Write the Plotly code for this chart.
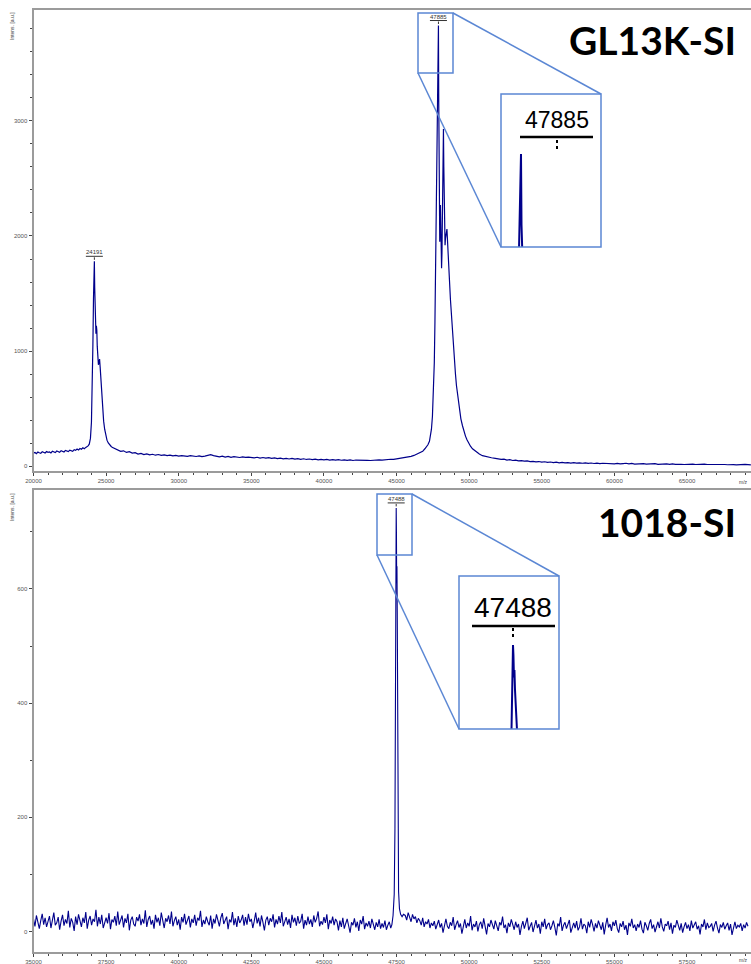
import plotly.graph_objects as go

W, H = 751, 964

# ---------------- GL13K-SI spectrum (m/z, intensity) ----------------
# baseline 20000-23700, step 100
top_a_start, top_a_step = 20000, 100
top_a_int = [112, 118, 108, 121, 115, 110, 124, 117, 113, 126,
             119, 122, 114, 128, 121, 117, 130, 124, 119, 133,
             126, 122, 136, 129, 125, 138, 133, 128, 142, 136,
             148, 140, 152, 146, 158, 150, 162, 168]
# peak cluster around 24191
top_p1_mz = [23760, 23840, 23920, 23990, 24040, 24090, 24130, 24165, 24191, 24215,
             24240, 24270, 24300, 24330, 24360, 24390, 24430, 24470, 24510, 24550,
             24590, 24640, 24700, 24760, 24830, 24900, 24980, 25060, 25150, 25250,
             25350, 25450]
top_p1_int = [175, 190, 240, 380, 620, 1050, 1450, 1700, 1780, 1550,
              1320, 1190, 1150, 1220, 1180, 1040, 950, 880, 900, 930,
              860, 740, 610, 490, 390, 320, 265, 225, 200, 182,
              170, 160]
# baseline 25600-46600, step 200
top_b_start, top_b_step = 25600, 200
top_b_int = [150, 138, 127, 132, 118, 124, 112, 116,
             104, 110, 99, 106, 97, 102, 94, 100, 92, 97,
             90, 95, 88, 93, 86, 91, 89, 84, 90, 86,
             83, 88, 81, 86, 93, 98, 90, 84, 80, 85,
             78, 83, 76, 81, 79, 74, 80, 75, 78, 73,
             71, 76, 69, 74, 68, 72, 66, 71, 65, 69,
             63, 67, 61, 66, 60, 64, 58, 63, 57, 61,
             56, 60, 54, 58, 53, 57, 52, 56, 51, 55,
             50, 54, 49, 53, 48, 52, 50, 47, 51, 49,
             48, 52, 50, 54, 52, 56, 55, 59, 58, 62,
             64, 68, 72, 77, 84, 92, 104, 118]
# main peak cluster around 47885
top_p2_mz = [46800, 46950, 47058, 47160, 47265, 47340, 47403, 47470, 47540, 47600,
             47644, 47680, 47713, 47750, 47782, 47815, 47840, 47865, 47885, 47905,
             47933, 47955, 47975, 48000, 48023, 48045, 48071, 48100, 48128, 48155,
             48183, 48205, 48230, 48255, 48279, 48310, 48340, 48370, 48404, 48440,
             48471, 48505, 48540, 48590, 48643, 48710, 48781, 48850, 48919, 48990,
             49057, 49125, 49195, 49265, 49333, 49430, 49540, 49640, 49747, 49850,
             49954, 50090, 50230, 50370, 50505, 50700, 50918, 51200, 51540]
top_p2_int = [128, 150, 165, 185, 215, 260, 320, 430, 620, 900,
              1250, 1650, 2050, 2500, 2900, 3300, 3560, 3750, 3830, 3200,
              2500, 2150, 1950, 2120, 2270, 2050, 1760, 1720, 1850, 2200,
              2580, 2800, 2930, 2600, 2300, 2050, 1920, 1980, 2010, 2050,
              2060, 1970, 1900, 1760, 1620, 1450, 1300, 1140, 1000, 890,
              800, 700, 620, 545, 480, 410, 350, 300, 260, 228,
              200, 172, 150, 134, 120, 104, 90, 80, 72]
# baseline 51800-69400, step 200
top_c_start, top_c_step = 51800, 200
top_c_int = [66, 61, 57, 60, 52, 55, 48, 51, 45, 47,
             42, 44, 39, 41, 36, 39, 34, 37, 32, 35,
             30, 33, 28, 31, 27, 30, 26, 29, 25, 28,
             24, 27, 23, 26, 22, 25, 21, 24, 22, 20,
             23, 19, 22, 18, 21, 24, 19, 22, 17, 20,
             18, 21, 16, 19, 17, 20, 15, 18, 16, 19,
             15, 18, 14, 17, 15, 13, 16, 14, 17, 13,
             15, 12, 16, 13, 14, 11, 15, 12, 14, 13,
             11, 14, 12, 10, 13, 11, 14, 12, 10]

# ---------------- 1018-SI spectrum (m/z, intensity) ----------------
# baseline 35000-47300, step 50
bot_a_start, bot_a_step = 35000, 50
bot_a_int = [22, 9, 28, 14, 5, 19, 31, 12, 24, 8,
             17, 27, 6, 20, 33, 11, 15, 25, 3, 18,
             29, 10, 21, 14, 36, 7, 23, 16, 1, 26,
             12, 30, 19, 8, 24, 15, 34, 5, 20, 27,
             11, 22, 17, 38, 9, 25, 13, 29, 6, 18,
             24, 14, 32, 4, 21, 16, 27, 10, 35, 12,
             19, 28, 7, 23, 15, 31, 2, 20, 26, 13,
             9, 25, 18, 30, 11, 22, 14, 37, 8, 21,
             27, 12, 20, 5, 29, 16, 24, 10, 33, 15,
             6, 23, 17, 28, 13, 35, 9, 19, 26, 11,
             21, 3, 25, 16, 31, 12, 18, 27, 7, 22,
             15, 29, 10, 24, 19, 36, 8, 20, 13, 26,
             17, 11, 28, 5, 22, 14, 30, 18, 9, 24,
             32, 13, 19, 26, 4, 21, 16, 34, 11, 23,
             8, 27, 15, 20, 29, 10, 25, 12, 31, 17,
             22, 6, 18, 33, 14, 24, 9, 28, 16, 2,
             20, 26, 11, 23, 17, 30, 7, 21, 13, 27,
             15, 34, 9, 19, 25, 12, 22, 6, 29, 16,
             24, 10, 27, 14, 18, 31, 5, 20, 11, 26,
             13, 21, 8, 28, 16, 23, 35, 9, 18, 12,
             25, 15, 30, 4, 20, 14, 26, 11, 22, 17,
             2, 19, 8, 24, 5, 14, 22, 10, -2, 16,
             11, 23, 7, 17, 1, 20, 13, 27, 4, 15,
             9, 18, 6, 22, 12, 3, 16, 8, 21, 5,
             14, 7, 19, 3, 11, 17, 6]
# peak around 47488
bot_p_mz = [47340, 47380, 47420, 47445, 47460, 47472, 47482, 47488, 47496, 47505,
            47514, 47524, 47536, 47550, 47570, 47600, 47640, 47690, 47740]
bot_p_int = [12, 28, 65, 180, 380, 600, 720, 742, 700, 610,
             640, 560, 380, 170, 70, 40, 30, 26, 30]
# baseline 47800-59600, step 50
bot_b_start, bot_b_step = 47800, 50
bot_b_int = [28, 20, 33, 24, 17, 30, 22, 26, 15, 23,
             19, 11, 24, 8, 17, 13, 21, 6, 15, 10,
             18, 4, 13, 20, 7, 14, -2, 11, 22, 9,
             5, 16, 10, 25, 3, 12, 19, 7, 14, -4,
             11, 21, 6, 15, 9, 27, 2, 13, 8, 18,
             0, 12, 17, 5, 23, 10, -5, 14, 8, 20,
             13, 4, 19, 9, 1, 16, 11, 26, 6, 12,
             -3, 15, 8, 21, 10, 3, 17, 7, 13, -6,
             9, 18, 5, 14, 24, 2, 11, 16, -1, 10,
             20, 6, 13, -4, 17, 8, 22, 4, 12, 15,
             3, 10, 19, 7, -7, 14, 9, 25, 1, 11,
             16, 5, 12, 20, -2, 9, 15, 6, 18, 2,
             8, 23, 4, 13, 10, -3, 17, 7, 21, 12,
             0, 14, 6, 19, 9, 3, 16, -5, 11, 24,
             7, 13, 1, 17, 10, 20, 5, -2, 14, 8,
             18, 3, 11, -6, 15, 9, 22, 6, 12, 1,
             13, 7, 19, 4, -3, 16, 10, 2, 14, 21,
             5, 12, -1, 9, 17, 6, 23, 8, 0, 13,
             10, 18, 3, 15, -4, 11, 7, 20, 9, 2,
             14, -2, 8, 16, 5, 12, 1, 19, 6, 11,
             17, 4, 10, -5, 13, 8, 21, 3, 15, 7,
             9, 14, 0, 11, 18, 6, -3, 12, 7, 16,
             4, 10, 15, 2, 13, -6, 9, 17, 5, 11,
             8, 14, 1, 12, 6, 16, 9]

# labelled peaks
top_peaks = [(24191, 1780), (47885, 3830)]
bot_peaks = [(47488, 742)]
top_title = "GL13K-SI"
bot_title = "1018-SI"


def grid(start, step, vals):
    return [start + step * i for i in range(len(vals))]


top_mz = (grid(top_a_start, top_a_step, top_a_int) + top_p1_mz
          + grid(top_b_start, top_b_step, top_b_int) + top_p2_mz
          + grid(top_c_start, top_c_step, top_c_int))
top_int = top_a_int + top_p1_int + top_b_int + top_p2_int + top_c_int
bot_mz = (grid(bot_a_start, bot_a_step, bot_a_int) + bot_p_mz
          + grid(bot_b_start, bot_b_step, bot_b_int))
bot_int = bot_a_int + bot_p_int + bot_b_int


def px(x):
    return x / W


def py(y):
    return 1 - y / H


LINE = "#00008b"
AX = "#9b9b9b"
BOX = "#5b87d4"
TICKFONT = dict(family="Liberation Sans", size=6, color="#555555")

fig = go.Figure()
fig.add_trace(go.Scatter(x=top_mz, y=top_int, mode="lines",
                         line=dict(color=LINE, width=1.2), xaxis="x", yaxis="y"))
fig.add_trace(go.Scatter(x=bot_mz, y=bot_int, mode="lines",
                         line=dict(color=LINE, width=1.1), xaxis="x2", yaxis="y2"))
# magnified views of the main peaks
fig.add_trace(go.Scatter(x=top_mz, y=top_int, mode="lines",
                         line=dict(color=LINE, width=2), xaxis="x3", yaxis="y3"))
fig.add_trace(go.Scatter(x=bot_mz, y=bot_int, mode="lines",
                         line=dict(color=LINE, width=2), xaxis="x4", yaxis="y4"))


def main_x(rng, dtick, minor, anchor):
    return dict(domain=[px(33.5), 1], range=rng, anchor=anchor, automargin=False,
                showline=True, linecolor=AX, linewidth=2, mirror=True,
                ticks="outside", ticklen=3, tickcolor="#444", tickwidth=1,
                dtick=dtick, tick0=0, tickformat="d", tickfont=TICKFONT,
                minor=dict(dtick=minor, ticks="outside", ticklen=2, tickcolor="#444"),
                showgrid=False, zeroline=False)


def main_y(domain, rng, dtick, minor, anchor):
    return dict(domain=domain, range=rng, anchor=anchor, automargin=False,
                showline=True, linecolor=AX, linewidth=2,
                ticks="outside", ticklen=3, tickcolor="#444", tickwidth=1,
                dtick=dtick, tick0=0, tickformat="d", tickfont=TICKFONT,
                minor=dict(dtick=minor, ticks="outside", ticklen=2, tickcolor="#444"),
                showgrid=False, zeroline=False)


hidden = dict(visible=False, showgrid=False, zeroline=False, automargin=False)

fig.update_layout(
    width=W, height=H, margin=dict(l=0, r=0, t=0, b=0, autoexpand=False),
    paper_bgcolor="white", plot_bgcolor="white", showlegend=False,
    xaxis=main_x([20000, 69408], 5000, 1000, "y"),
    yaxis=main_y([py(470.5), py(10)], [-39, 3965], 1000, 200, "x"),
    xaxis2=main_x([35000, 59704], 2500, 500, "y2"),
    yaxis2=main_y([py(952), py(490)], [-36, 773.4], 200, 100, "x2"),
    xaxis3=dict(domain=[px(501), px(601)], range=[47085, 51085], anchor="y3", **hidden),
    yaxis3=dict(domain=[py(247), py(94)], range=[3000, 4365], anchor="x3", **hidden),
    xaxis4=dict(domain=[px(459), px(559)], range=[46516, 48316], anchor="y4", **hidden),
    yaxis4=dict(domain=[py(729), py(576)], range=[400, 1023], anchor="x4", **hidden),
)

shapes = []
annotations = []


def seg(x0, y0, x1, y1, color=BOX, width=1.5, dash="solid"):
    shapes.append(dict(type="line", xref="paper", yref="paper",
                       x0=px(x0), y0=py(y0), x1=px(x1), y1=py(y1),
                       line=dict(color=color, width=width, dash=dash)))


def rect(x0, y0, x1, y1):
    shapes.append(dict(type="rect", xref="paper", yref="paper",
                       x0=px(x0), y0=py(y0), x1=px(x1), y1=py(y1),
                       line=dict(color=BOX, width=1.5)))


# zoom boxes and connectors
rect(418, 13, 453, 73)
rect(501, 94, 601, 247)
seg(453, 13, 601, 94)
seg(418, 73, 501, 247)
rect(377, 494, 412, 555)
rect(459, 576, 559, 729)
seg(412, 494, 559, 576)
seg(377, 555, 459, 729)

# magnified label headers
seg(520, 137, 593, 137, color="black", width=2.5)
seg(557, 140, 557, 149, color="black", width=2, dash="dot")
seg(472, 626, 555, 626, color="black", width=2.5)
seg(513, 628, 513, 638, color="black", width=2, dash="dot")
annotations.append(dict(xref="paper", yref="paper", x=px(557), y=py(120),
                        text=str(top_peaks[1][0]), showarrow=False,
                        xanchor="center", yanchor="middle",
                        font=dict(family="Liberation Sans", size=23, color="black")))
annotations.append(dict(xref="paper", yref="paper", x=px(513), y=py(607),
                        text=str(bot_peaks[0][0]), showarrow=False,
                        xanchor="center", yanchor="middle",
                        font=dict(family="Liberation Sans", size=28, color="black")))


# small peak labels in the spectra
def peak_label(mz, inten, xr, yr):
    annotations.append(dict(xref=xr, yref=yr, x=mz, y=inten, text=str(mz),
                            showarrow=False, yshift=9, xanchor="center",
                            yanchor="middle",
                            font=dict(family="Liberation Sans", size=6, color="#333")))
    shapes.append(dict(type="line", xref=xr, yref=yr,
                       xsizemode="pixel", xanchor=mz, x0=-8.5, x1=8.5,
                       ysizemode="pixel", yanchor=inten, y0=5, y1=5,
                       line=dict(color="#333", width=1)))
    shapes.append(dict(type="line", xref=xr, yref=yr,
                       xsizemode="pixel", xanchor=mz, x0=0, x1=0,
                       ysizemode="pixel", yanchor=inten, y0=1.5, y1=4,
                       line=dict(color="#333", width=1, dash="dot")))


for mz, inten in top_peaks:
    peak_label(mz, inten, "x", "y")
for mz, inten in bot_peaks:
    peak_label(mz, inten, "x2", "y2")

# axis titles
for ytop in (10, 491):
    annotations.append(dict(xref="paper", yref="paper", x=px(12), y=py(ytop),
                            text="Intens. [a.u.]", textangle=-90, showarrow=False,
                            xanchor="center", yanchor="top",
                            font=dict(family="Liberation Sans", size=5, color="#444")))
for yb in (482, 960):
    annotations.append(dict(xref="paper", yref="paper", x=px(750), y=py(yb),
                            text="m/z", showarrow=False, xanchor="right",
                            yanchor="middle",
                            font=dict(family="Liberation Sans", size=5, color="#444")))

# sample names
annotations.append(dict(xref="paper", yref="paper", x=px(738), y=py(40.5),
                        text=top_title, showarrow=False, xanchor="right",
                        yanchor="middle",
                        font=dict(family="Lato", size=39, color="black", weight=700)))
annotations.append(dict(xref="paper", yref="paper", x=px(738), y=py(521.5),
                        text=bot_title, showarrow=False, xanchor="right",
                        yanchor="middle",
                        font=dict(family="Lato", size=39, color="black", weight=700)))

fig.update_layout(shapes=shapes, annotations=annotations)
fig.write_html("out.html")
